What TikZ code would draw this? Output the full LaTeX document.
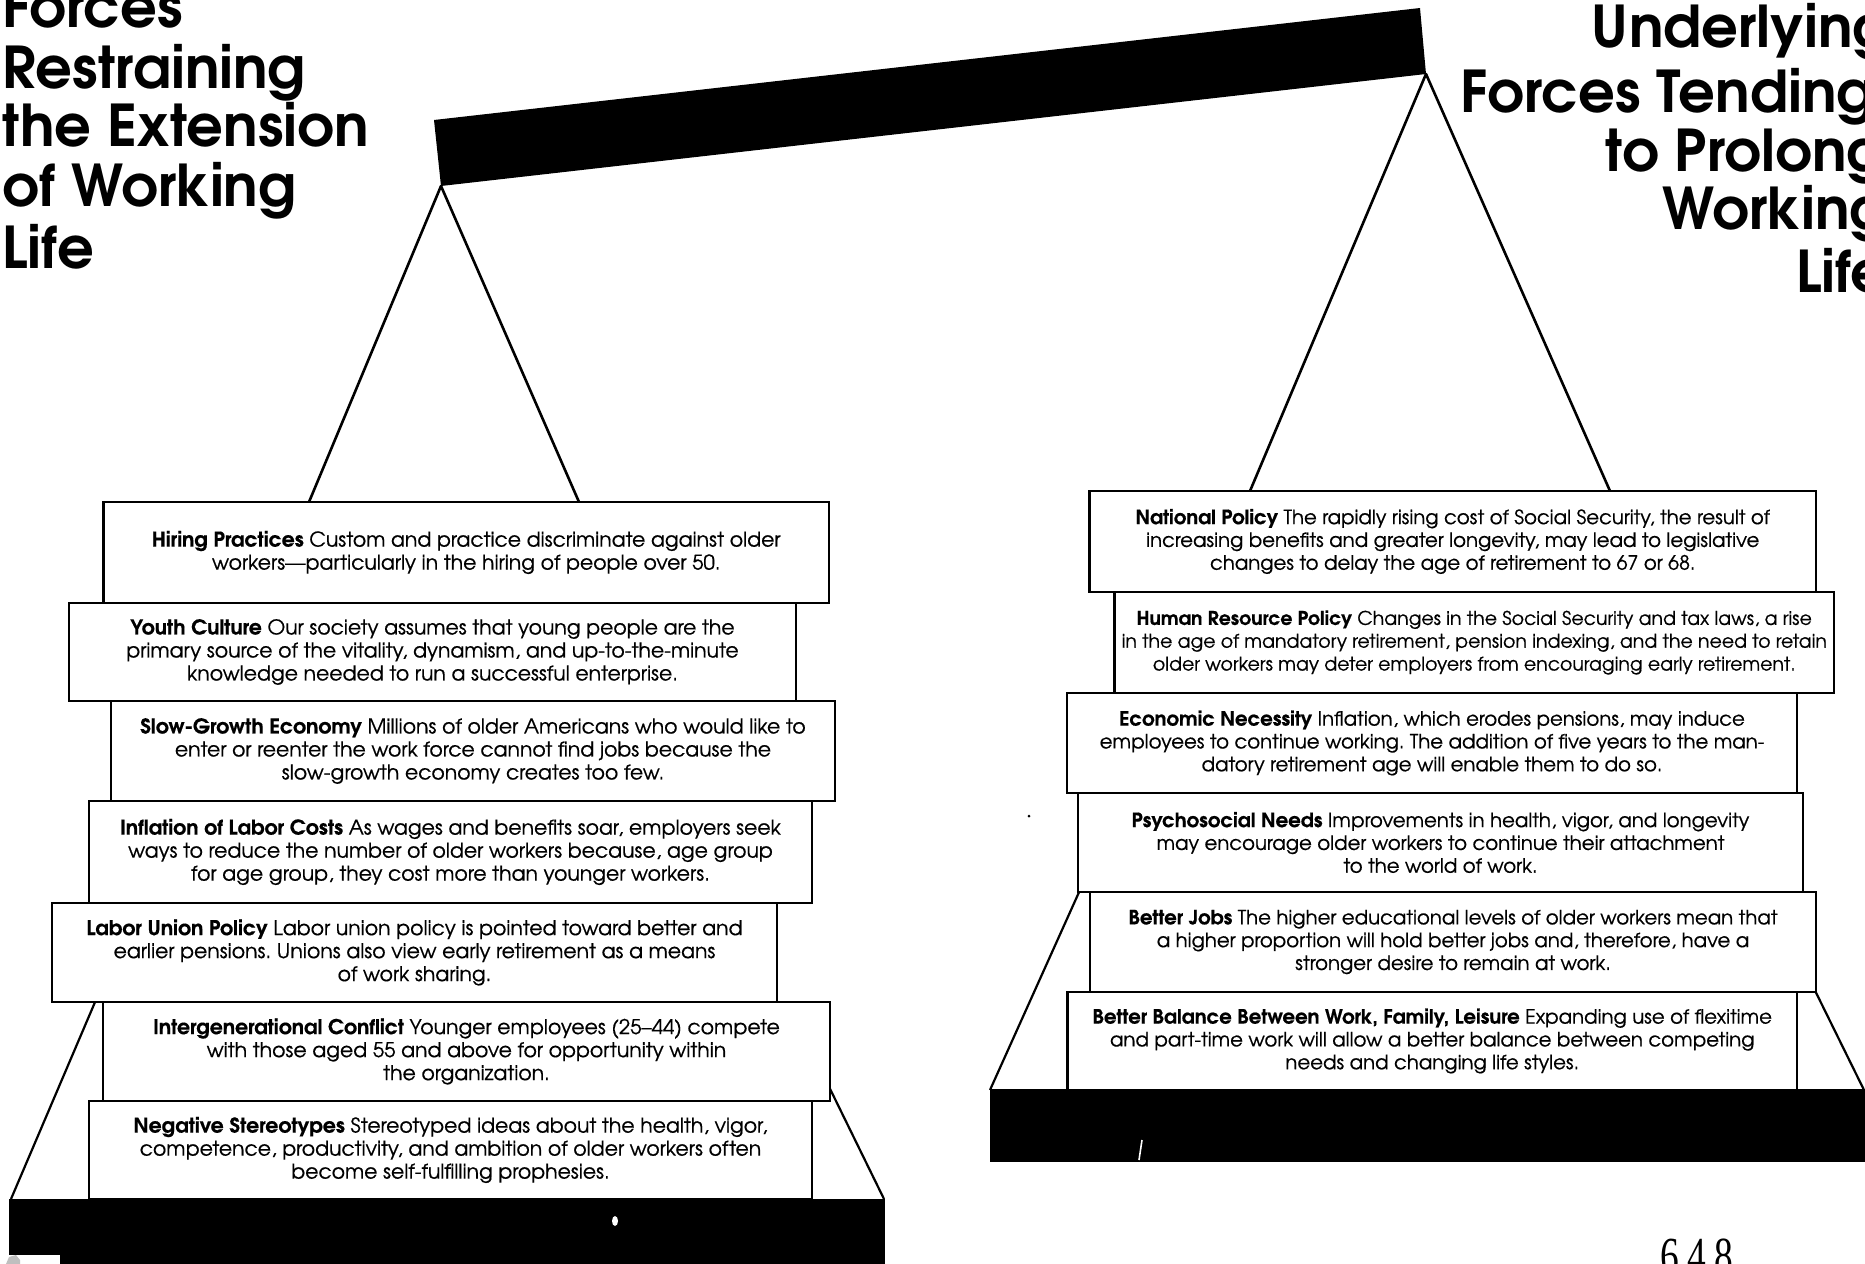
\documentclass[tikz,border=0pt]{standalone}
\usepackage{fontspec}
\setmainfont{TeX Gyre Adventor}
\newfontfamily\bodyfont[FakeBold=0.5]{TeX Gyre Adventor}
\newfontfamily\pagefont{Liberation Serif}
\usetikzlibrary{fit}
\frenchspacing
\tikzset{
  panel/.style={draw=black, line width=1.1pt, fill=white, inner sep=0pt},
  paneltext/.style={align=center, font=\bodyfont\fontsize{10.2}{11.5}\selectfont, inner sep=0pt},
  rtext/.style={font=\bodyfont\fontsize{9.85}{11.4}\selectfont},
  rtextnarrow/.style={font=\bodyfont\fontsize{9.45}{11.4}\selectfont},
  bigtitle/.style={font=\bfseries\fontsize{28.8}{30}\selectfont, inner sep=0pt},
  hanger/.style={line width=1.3pt, line cap=round},
  panside/.style={line width=1.1pt},
  pan/.style={fill=black},
}
\newcommand\hd[1]{\textbf{#1}}
\newcommand\panelbox[7][]{%
  \node[panel, fit={(#3,#4) (#5,#6)}] (#2) {};
  \node[paneltext, #1] (#2t) at (#2.center) {#7};
}
\begin{document}
\begin{tikzpicture}[x=0.5pt,y=-0.5pt]
\useasboundingbox (0,0) rectangle (1865,1264);
\fill[white] (0,0) rectangle (1865,1264);

% ---- titles
\node[bigtitle, anchor=base west] (lt1) at (2,27) {Forces};
\node[bigtitle, anchor=base west] (lt2) at (2,88) {Restraining};
\node[bigtitle, anchor=base west] (lt3) at (2,146) {the Extension};
\node[bigtitle, anchor=base west] (lt4) at (2,206) {of Working};
\node[bigtitle, anchor=base west] (lt5) at (2,268) {Life};

\node[bigtitle, anchor=base east] (rt1) at (1891,47) {Underlying};
\node[bigtitle, anchor=base east] (rt2) at (1875,112) {Forces Tending};
\node[bigtitle, anchor=base east] (rt3) at (1885,171) {to Prolong};
\node[bigtitle, anchor=base east] (rt4) at (1888,229) {Working};
\node[bigtitle, anchor=base east] (rt5) at (1888,292) {Life};

% ---- beam
\coordinate (bTL) at (434,120);
\coordinate (bTR) at (1420,8);
\coordinate (bBR) at (1426,74);
\coordinate (bBL) at (441,186);
\fill[black] (bTL) -- (bTR) -- (bBR) -- (bBL) -- cycle;

% ---- hangers
\coordinate (lhA) at (309,502);
\coordinate (lhB) at (579,502);
\coordinate (rhA) at (1250,491);
\coordinate (rhB) at (1610,491);
\draw[hanger] (bBL) -- (lhA);
\draw[hanger] (bBL) -- (lhB);
\draw[hanger] (bBR) -- (rhA);
\draw[hanger] (bBR) -- (rhB);

% ---- pan sides (partly hidden behind the boxes)
\coordinate (lpL) at (11,1199);
\coordinate (lpLtop) at (113,960);
\coordinate (lpR) at (884,1199);
\coordinate (lpRtop) at (811,1050);
\coordinate (rpL) at (990,1090);
\coordinate (rpLtop) at (1098,850);
\coordinate (rpR) at (1864,1090);
\coordinate (rpRtop) at (1795,950);
\draw[panside] (lpL) -- (lpLtop);
\draw[panside] (lpR) -- (lpRtop);
\draw[panside] (rpL) -- (rpLtop);
\draw[panside] (rpR) -- (rpRtop);

% ---- left stack
\panelbox{L1}{103.5}{502}{829}{603}{\hd{Hiring Practices} Custom and practice discriminate against older\\workers—particularly in the hiring of people over 50.}
\panelbox{L2}{69}{603}{796}{701}{\hd{Youth Culture} Our society assumes that young people are the\\primary source of the vitality, dynamism, and up-to-the-minute\\knowledge needed to run a successful enterprise.}
\panelbox{L3}{111}{701}{835}{801}{\hd{Slow-Growth Economy} Millions of older Americans who would like to\\enter or reenter the work force cannot find jobs because the\\slow-growth economy creates too few.}
\panelbox{L4}{89}{801}{812}{903}{\hd{Inflation of Labor Costs} As wages and benefits soar, employers seek\\ways to reduce the number of older workers because, age group\\for age group, they cost more than younger workers.}
\panelbox{L5}{52}{903}{777}{1002}{\hd{Labor Union Policy} Labor union policy is pointed toward better and\\earlier pensions. Unions also view early retirement as a means\\of work sharing.}
\panelbox{L6}{103}{1002}{830}{1101}{\hd{Intergenerational Conflict} Younger employees (25–44) compete\\with those aged 55 and above for opportunity within\\the organization.}
\panelbox{L7}{89}{1101}{812}{1199}{\hd{Negative Stereotypes} Stereotyped ideas about the health, vigor,\\competence, productivity, and ambition of older workers often\\become self-fulfilling prophesies.}

% ---- right stack
\panelbox[rtext]{R1}{1089.5}{491}{1816}{592}{\hd{National Policy} The rapidly rising cost of Social Security, the result of\\increasing benefits and greater longevity, may lead to legislative\\changes to delay the age of retirement to 67 or 68.}
\panelbox[rtextnarrow]{R2}{1114.5}{592}{1834}{693}{\hd{Human Resource Policy} Changes in the Social Security and tax laws, a rise\\in the age of mandatory retirement, pension indexing, and the need to retain\\older workers may deter employers from encouraging early retirement.}
\panelbox[rtext]{R3}{1067}{693}{1797}{793}{\hd{Economic Necessity} Inflation, which erodes pensions, may induce\\employees to continue working. The addition of five years to the man-\\datory retirement age will enable them to do so.}
\panelbox[rtext]{R4}{1078}{793}{1803}{892}{\hd{Psychosocial Needs} Improvements in health, vigor, and longevity\\may encourage older workers to continue their attachment\\to the world of work.}
\panelbox[rtext]{R5}{1090}{892}{1816}{992}{\hd{Better Jobs} The higher educational levels of older workers mean that\\a higher proportion will hold better jobs and, therefore, have a\\stronger desire to remain at work.}
\panelbox[rtext]{R6}{1067.5}{992}{1797}{1090}{\hd{Better Balance Between Work, Family, Leisure} Expanding use of flexitime\\and part-time work will allow a better balance between competing\\needs and changing life styles.}

% ---- pan bases
\fill[pan] (9,1199) rectangle (885,1264);
\fill[pan] (990,1089) rectangle (1865,1162);
\fill[white] (0,1255) rectangle (60,1264);
\fill[gray!50] (6,1264) -- (9,1257) -- (16,1255) -- (20,1260) -- (20,1264) -- cycle;
\fill[white] (615,1221) ellipse (3 and 5);
\draw[white, line width=0.8pt] (1142,1140) -- (1139,1160);
\fill[black] (1029,816) circle (1.5);

% ---- page number
\node[anchor=base, inner sep=0pt] (pg) at (1697,1273) {\scalebox{0.72}[1]{\pagefont\fontsize{26}{26}\selectfont 6\hspace{6pt}4\hspace{6pt}8}};
\end{tikzpicture}
\end{document}
